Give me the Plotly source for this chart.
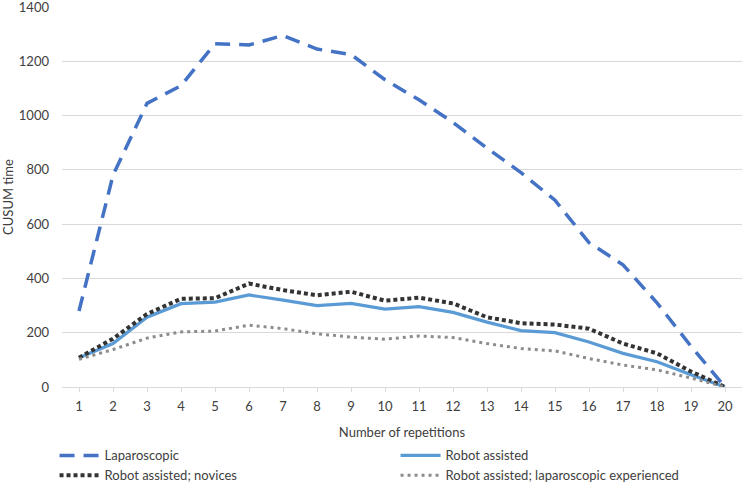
import plotly.graph_objects as go

reps = [str(i) for i in range(1, 21)]
laparoscopic = [280, 780, 1045, 1110, 1265, 1260, 1295, 1245, 1225, 1132, 1058, 975, 880, 790, 688, 532, 450, 310, 150, 0]
robot = [108, 160, 257, 307, 313, 339, 320, 300, 308, 287, 296, 275, 239, 208, 200, 166, 124, 93, 45, 0]
novices = [108, 178, 269, 325, 327, 381, 357, 338, 351, 318, 329, 308, 257, 235, 230, 215, 160, 124, 57, 0]
experienced = [102, 138, 180, 203, 206, 228, 215, 196, 184, 176, 188, 182, 160, 142, 133, 105, 81, 63, 33, 0]

font = "Lato, Open Sans, sans-serif"

fig = go.Figure()
fig.add_trace(go.Scatter(x=reps, y=laparoscopic, mode="lines", name="Laparoscopic",
                         line=dict(color="#4472C4", width=3.5, dash="15px,9px")))
fig.add_trace(go.Scatter(x=reps, y=robot, mode="lines", name="Robot assisted",
                         line=dict(color="#5B9BD5", width=3.2)))
fig.add_trace(go.Scatter(x=reps, y=novices, mode="lines", name="Robot assisted; novices",
                         line=dict(color="#333333", width=4, dash="4px,3px")))
fig.add_trace(go.Scatter(x=reps, y=experienced, mode="lines", name="Robot assisted; laparoscopic experienced",
                         line=dict(color="#8c8c8c", width=3, dash="3px,4px")))

fig.update_layout(
    width=744, height=484,
    margin=dict(l=62, r=2, t=7, b=97),
    plot_bgcolor="white", paper_bgcolor="white",
    font=dict(family=font, size=12, color="#404040"),
    xaxis=dict(type="category", range=[-0.5, 19.5], showgrid=False, automargin=False,
               showline=True, linecolor="#d9d9d9", linewidth=1,
               ticks="outside", ticklen=4, tickcolor="#d9d9d9", ticklabelstandoff=3,
               ticklabeloverflow="allow",
               tickfont=dict(size=13, color="#404040"),
               title=dict(text="Number of repetitions", font=dict(size=13, color="#404040"), standoff=16)),
    yaxis=dict(range=[0, 1400], dtick=200, showgrid=True, gridcolor="#d9d9d9", gridwidth=1,
               zeroline=False, showline=False, ticks="", automargin=False, ticklabelstandoff=12,
               ticklabeloverflow="allow",
               tickfont=dict(size=13, color="#404040"),
               title=dict(text="CUSUM time", font=dict(size=13, color="#404040"), standoff=14)),
    legend=dict(orientation="h", x=0.0733, xref="container", y=0.09, yref="container",
                xanchor="left", yanchor="top",
                entrywidth=286, entrywidthmode="pixels", itemwidth=40,
                font=dict(size=13, color="#404040"), tracegroupgap=0,
                bgcolor="rgba(0,0,0,0)"),
    showlegend=True,
)

fig.write_html("out.html", config={"displayModeBar": False},
               post_script="document.body.style.margin='0';")
